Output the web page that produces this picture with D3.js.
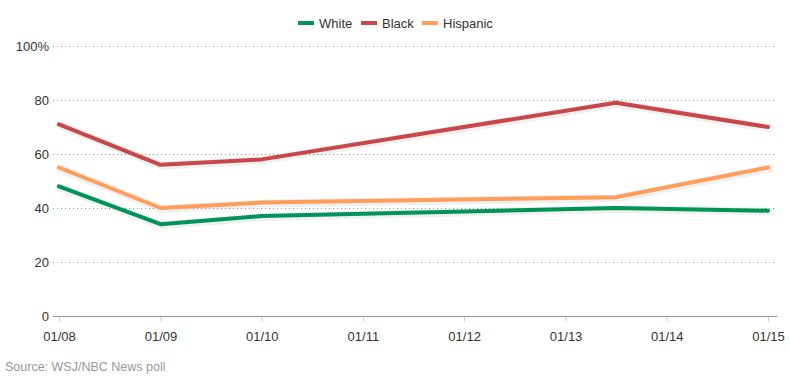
<!DOCTYPE html>
<html><head><meta charset="utf-8">
<script src="https://cdn.jsdelivr.net/npm/d3@7"></script>
<style>
html,body{margin:0;padding:0;background:#fff;}
svg{display:block;font-family:"Liberation Sans",Arial,sans-serif;}
</style></head>
<body><svg id="c" width="790" height="380"></svg>
<script>
const dates = ["2008-01-01","2009-01-01","2010-01-01","2013-07-01","2015-01-01"];
const white = [48, 34, 37, 40, 39];
const black = [71, 56, 58, 79, 70];
const hispanic = [55, 40, 42, 44, 55];
const seriesNames = ["White","Black","Hispanic"];
const seriesColors = ["#00945a","#c9474a","#ff9e5a"];
const yTicks = [0,20,40,60,80,100];
const xTickYears = [2008,2009,2010,2011,2012,2013,2014,2015];
const source = "Source: WSJ/NBC News poll";

const svg = d3.select("#c");
const parse = d3.timeParse("%Y-%m-%d");
const x = d3.scaleTime().domain([new Date(2008,0,1), new Date(2015,0,1)]).range([59, 768]);
const y = d3.scaleLinear().domain([0,100]).range([316, 46]);

// gridlines
svg.append("g").selectAll("line").data(yTicks.filter(d=>d>0)).join("line")
  .attr("x1",53).attr("x2",775)
  .attr("y1",d=>Math.round(y(d))+0.5).attr("y2",d=>Math.round(y(d))+0.5)
  .attr("stroke","#999").attr("stroke-width",1).attr("stroke-dasharray","1,3");

// y labels
svg.append("g").selectAll("text").data(yTicks).join("text")
  .attr("x",49).attr("y",d=>y(d)+4.5)
  .attr("text-anchor","end").attr("font-size",13).attr("fill","#333")
  .text(d=>d===100?"100%":d);

// x axis
const xAxis = d3.axisBottom(x)
  .tickValues(xTickYears.map(yr=>new Date(yr,0,1)))
  .tickFormat(d3.timeFormat("%m/%y"))
  .tickSize(5).tickSizeOuter(0);
const gx = svg.append("g").attr("transform","translate(0,316.5)").call(xAxis);
gx.select(".domain").remove();
gx.selectAll(".tick line").attr("stroke","#c0d0e0");
gx.selectAll(".tick text").attr("font-size",13).attr("fill","#333").attr("y",24.5).attr("dy",0)
  .attr("font-family","Liberation Sans, Arial, sans-serif");
svg.append("line").attr("x1",53).attr("x2",777).attr("y1",316.5).attr("y2",316.5)
  .attr("stroke","#999").attr("stroke-width",1);

// lines
const data = [white, black, hispanic];
const line = d3.line().x((d,i)=>x(parse(dates[i]))).y(d=>y(d));
data.forEach((vals,k)=>{
  svg.append("path").datum(vals).attr("d",line)
    .attr("fill","none").attr("stroke","#000").attr("stroke-opacity",0.06)
    .attr("stroke-width",8).attr("stroke-linejoin","round").attr("stroke-linecap","round")
    .attr("transform","translate(1,1)");
  svg.append("path").datum(vals).attr("d",line)
    .attr("fill","none").attr("stroke",seriesColors[k])
    .attr("stroke-width",4).attr("stroke-linejoin","round").attr("stroke-linecap","round");
});

// legend
const legendX = [298, 361, 422];
const lg = svg.append("g");
seriesNames.forEach((n,i)=>{
  lg.append("rect").attr("x",legendX[i]).attr("y",21).attr("width",16).attr("height",4)
    .attr("fill",seriesColors[i]);
  lg.append("text").attr("x",legendX[i]+21).attr("y",27.5).attr("font-size",13)
    .attr("fill","#333").text(n);
});

// source
svg.append("text").attr("x",5).attr("y",371).attr("font-size",12.5)
  .attr("fill","#999").text(source);
</script></body></html>
